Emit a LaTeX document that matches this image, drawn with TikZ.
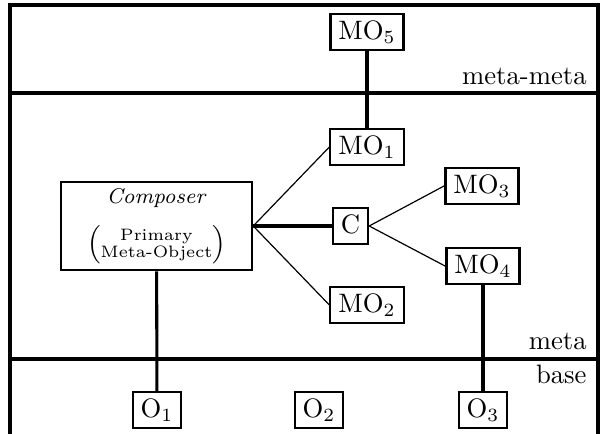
\documentclass[tikz,border=0pt]{standalone}
\usepackage{amsmath}

\begin{document}
\begin{tikzpicture}[x=0.375pt,y=-0.375pt,
box/.style={draw,line width=0.8pt,inner xsep=3pt,inner ysep=2.5pt,text height=7pt,text depth=1.5pt},
heavy/.style={box,line width=1.05pt},
thin/.style={line width=0.45pt},
thick line/.style={line width=1.15pt},
rule/.style={line width=1.15pt}]
\useasboundingbox (0,0) rectangle (606,434);
\draw[rule] (10,434) -- (10,5) -- (598,5) -- (598,434);
\draw[rule] (12,93) -- (598,93);
\draw[rule] (12,359) -- (598,359);
\node[anchor=base east] (lmm) at (596,85) {meta-meta};
\node[anchor=base east] (lm) at (596,350) {meta};
\node[anchor=base east] (lb) at (596,383) {base};
\node[heavy] (mo5) at (367,32) {MO$_5$};
\node[box] (mo1) at (367,147) {MO$_1$};
\node[box] (mo2) at (367,305) {MO$_2$};
\node[box] (c) at (350.5,226) {C};
\node[heavy] (mo3) at (482,186) {MO$_3$};
\node[heavy] (mo4) at (483,266) {MO$_4$};
\node[draw,line width=0.95pt,minimum width=71.6pt,minimum height=33pt,align=center,inner sep=2pt,font=\footnotesize] (comp) at (156.5,226)
 {\textit{Composer}\\[5.5pt]$\Bigl(\mbox{\fontsize{6.2}{6.4}\selectfont\begin{tabular}{@{}c@{}}Primary\\Meta-Object\end{tabular}}\Bigr)$};
\node[box] (o1) at (157,410) {O$_1$};
\node[box] (o2) at (319,410) {O$_2$};
\node[box] (o3) at (483,410) {O$_3$};
\draw[thick line] (mo5) -- (mo1);
\draw[thick line] (comp.east) -- (c);
\draw[thin] (comp.east) -- (mo1.west);
\draw[thin] (comp.east) -- (mo2.west);
\draw[thin] (c.east) -- (mo3.west);
\draw[thin] (c.east) -- (mo4.west);
\draw[thick line] (comp) -- (o1);
\draw[thick line] (mo4) -- (o3);
\end{tikzpicture}
\end{document}
